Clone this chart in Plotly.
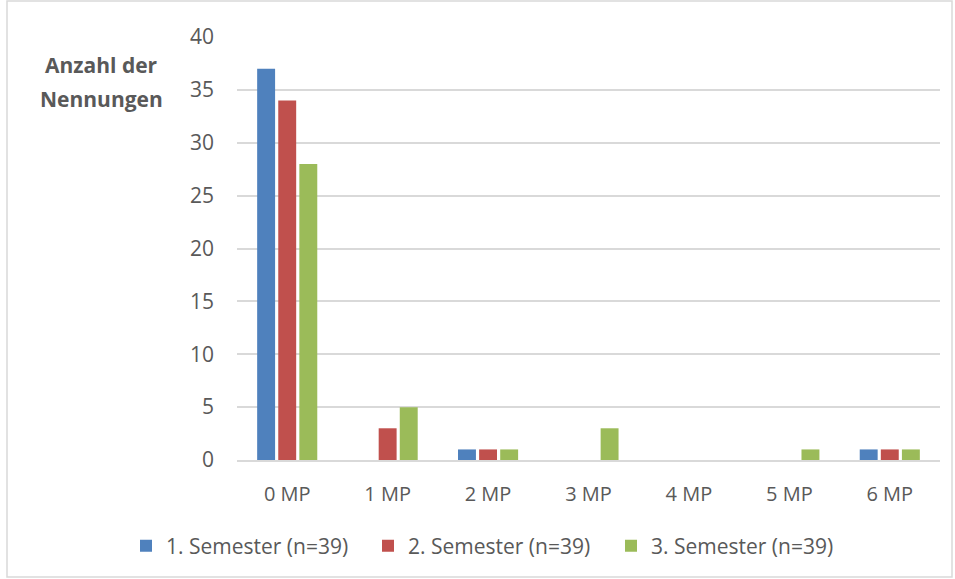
import plotly.graph_objects as go

categories = ["0 MP", "1 MP", "2 MP", "3 MP", "4 MP", "5 MP", "6 MP"]
series_names = ["1. Semester (n=39)", "2. Semester (n=39)", "3. Semester (n=39)"]
sem1 = [37, 0, 1, 0, 0, 0, 1]
sem2 = [34, 3, 1, 0, 0, 0, 1]
sem3 = [28, 5, 1, 3, 0, 1, 1]
colors = ["#4F81BD", "#C0504D", "#9BBB59"]

W, H = 955, 579
L, T = 237, 37
pw, ph = 940 - 237, 460 - 37
R = W - L - pw
B = H - T - ph

def px(x):
    return (x - L) / pw

def py(y):
    return (T + ph - y) / ph

font = "Open Sans, Liberation Sans, sans-serif"
legend_names = ["legend", "legend2", "legend3"]
legend_text_x = [166, 408, 651]

fig = go.Figure()
for name, vals, col, lg in zip(series_names, [sem1, sem2, sem3], colors, legend_names):
    fig.add_trace(go.Bar(x=categories, y=vals, name=name, marker_color=col,
                         marker_line_width=0, legend=lg))

legend_layout = {}
for lg, tx in zip(legend_names, legend_text_x):
    legend_layout[lg] = dict(orientation="h", x=px(tx - 40), xanchor="left",
                             y=py(546), yanchor="middle",
                             font=dict(size=21, color="#595959", family=font),
                             itemwidth=30, bgcolor="rgba(0,0,0,0)")

fig.update_layout(
    width=W, height=H,
    margin=dict(l=L, r=R, t=T, b=B),
    paper_bgcolor="white", plot_bgcolor="white",
    barmode="group", bargap=0.37, bargroupgap=0.15,
    font=dict(family=font, color="#595959"),
    showlegend=True,
    **legend_layout,
    xaxis=dict(showgrid=False, showline=True, linecolor="#D9D9D9", linewidth=1.5,
               tickfont=dict(size=20, color="#595959"), ticks="", ticklabelstandoff=15),
    yaxis=dict(range=[0, 40], dtick=5, showgrid=True, gridcolor="#D9D9D9", gridwidth=1.5,
               zeroline=False, showline=False, ticks="",
               tickfont=dict(size=21, color="#595959"), ticklabelstandoff=22),
    annotations=[
        dict(text="<b>Anzahl der</b>", xref="paper", yref="paper",
             x=px(101), y=py(65), xanchor="center", yanchor="middle",
             showarrow=False, font=dict(size=21, color="#595959", family=font)),
        dict(text="<b>Nennungen</b>", xref="paper", yref="paper",
             x=px(101), y=py(99), xanchor="center", yanchor="middle",
             showarrow=False, font=dict(size=21, color="#595959", family=font)),
    ],
    shapes=[dict(type="rect", xref="paper", yref="paper",
                 x0=px(7), x1=px(952),
                 y0=py(577), y1=py(1),
                 line=dict(color="#D9D9D9", width=1.5), fillcolor="rgba(0,0,0,0)", layer="below")],
)

fig.write_html("out.html", config={"displayModeBar": False},
               post_script="document.body.style.margin='0';document.body.style.padding='0';document.documentElement.style.overflow='hidden';")
